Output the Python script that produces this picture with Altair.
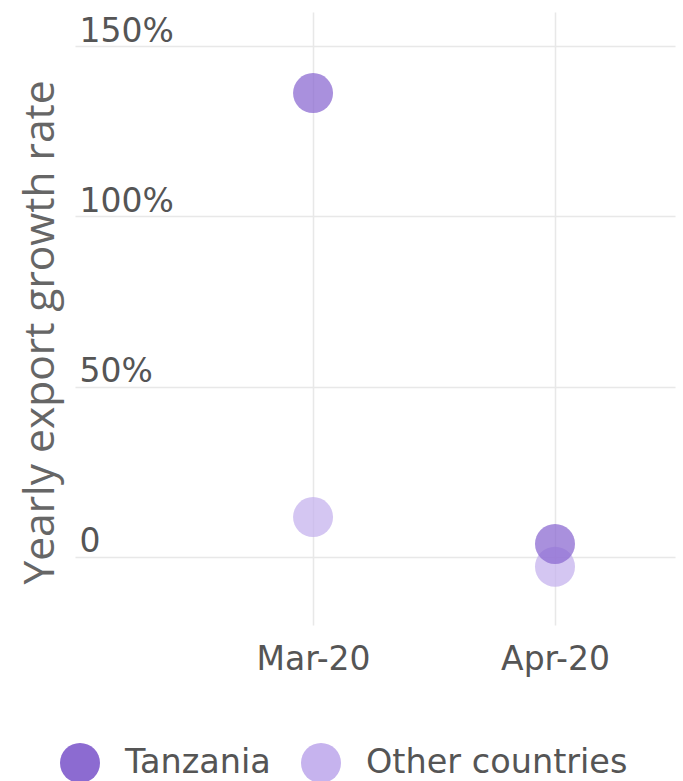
import altair as alt
import pandas as pd

# Yearly export growth rate (%) by month
months = ["2020-03-01", "2020-04-01"]
tanzania = [136.2, 3.8]
other_countries = [11.7, -2.9]

series = ["Tanzania", "Other countries"]
colors = ["#8c6bd1", "#c6b3ee"]

rows = []
# lighter series first so Tanzania sits on top where points overlap
for m, v in zip(months, other_countries):
    rows.append({"month": m, "series": "Other countries", "growth": v})
for m, v in zip(months, tanzania):
    rows.append({"month": m, "series": "Tanzania", "growth": v})
df = pd.DataFrame(rows)

label_font = "DejaVu Sans"
title_font = "Open Sans"

x_ticks = [alt.DateTime(year=2020, month=3, date=1, utc=True),
           alt.DateTime(year=2020, month=4, date=1, utc=True)]
x_domain = [alt.DateTime(year=2020, month=1, date=30, hours=12, utc=True),
            alt.DateTime(year=2020, month=4, date=16, hours=9, utc=True)]

chart = (
    alt.Chart(df)
    .mark_circle(size=1600, opacity=0.75)
    .encode(
        x=alt.X(
            "month:T",
            scale=alt.Scale(type="utc", domain=x_domain, nice=False),
            axis=alt.Axis(
                title=None,
                values=x_ticks,
                format="%b-%y",
                labelAngle=0,
                labelFont=label_font,
                labelFontSize=33,
                labelColor="#555555",
                labelPadding=18,
                labelFlush=False,
                ticks=False,
                domain=False,
                grid=True,
                gridColor="#e8e8e8",
                gridWidth=1.5,
            ),
        ),
        y=alt.Y(
            "growth:Q",
            scale=alt.Scale(domain=[-20, 160], nice=False, zero=False),
            axis=alt.Axis(
                title="Yearly export growth rate",
                titleFont=title_font,
                titleFontSize=42.5,
                titleFontWeight="normal",
                titleColor="#666666",
                titleAngle=270,
                titleX=-35,
                titleY=320,
                titleAlign="center",
                titleBaseline="middle",
                values=[0, 50, 100, 150],
                labelExpr="datum.value == 0 ? '0' : datum.value + '%'",
                labelFont=label_font,
                labelFontSize=33,
                labelColor="#555555",
                labelAlign="left",
                labelBaseline="bottom",
                labelPadding=-4,
                labelOffset=2,
                ticks=False,
                domain=False,
                grid=True,
                gridColor="#e8e8e8",
                gridWidth=1.5,
            ),
        ),
        color=alt.Color(
            "series:N",
            scale=alt.Scale(domain=series, range=colors),
            legend=alt.Legend(
                title=None,
                orient="none",
                direction="horizontal",
                legendX=-15,
                legendY=731,
                symbolType="circle",
                symbolSize=1600,
                symbolOpacity=1,
                symbolStrokeWidth=0,
                labelFont=label_font,
                labelFontSize=33.5,
                labelColor="#555555",
                labelOffset=25,
                labelLimit=500,
                columnPadding=30,
                padding=0,
            ),
        ),
    )
    .properties(
        width=600,
        height=613,
        background="white",
        autosize=alt.AutoSizeParams(type="none"),
        padding={"left": 75, "top": 12, "right": 8, "bottom": 156},
    )
    .configure_view(strokeWidth=0, strokeOpacity=0)
)

chart.save("out.html", embed_options={"renderer": "svg", "actions": False})
